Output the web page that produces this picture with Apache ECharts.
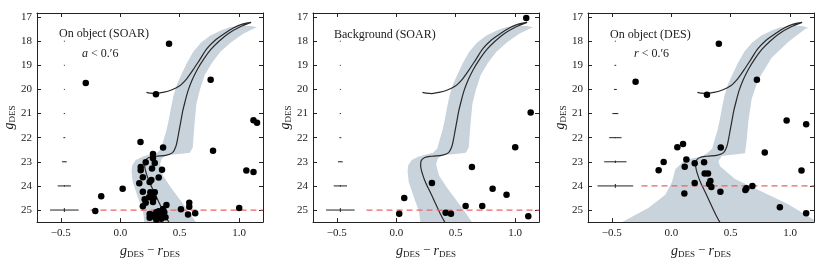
<!DOCTYPE html>
<html><head><meta charset="utf-8">
<script src="https://cdn.jsdelivr.net/npm/echarts@6/dist/echarts.min.js"></script>
<style>html,body{margin:0;padding:0;background:#fff}#c{width:831px;height:264px}</style>
</head><body><div id="c"></div>
<script>
// ---------- data ----------
const xTicks = [-0.5, 0.0, 0.5, 1.0];
const yTicks = [17, 18, 19, 20, 21, 22, 23, 24, 25];

// isochrone (MS -> RGB tip -> AGB -> HB end), [color, mag]
const isoColor = [0.42,0.385,0.35,0.318,0.285,0.25,0.22,0.205,0.21,0.24,0.30,0.39,0.44,0.465,0.48,0.495,0.51,0.525,0.545,0.57,0.605,0.65,0.70,0.76,0.83,0.91,1.00,1.10,1.02,0.95,0.87,0.80,0.73,0.67,0.61,0.56,0.50,0.43,0.36,0.30,0.25,0.22];
const isoMag   = [25.6,25.3,24.95,24.6,24.25,23.9,23.5,23.15,22.95,22.82,22.77,22.72,22.62,22.4,22.1,21.7,21.3,20.9,20.5,20.05,19.6,19.15,18.75,18.35,18.0,17.68,17.42,17.22,17.3,17.45,17.7,17.95,18.3,18.75,19.2,19.55,19.85,20.02,20.12,20.17,20.15,20.12];

// SOAR band outline (left edge top->bottom, right edge bottom->top)
const bandSoarColor = [1.0,0.92,0.85,0.754,0.68,0.615,0.56,0.517,0.475,0.447,0.425,0.405,0.385,0.363,0.345,0.31,0.25,0.19,0.13,0.10,0.095,0.105,0.15,0.19,0.205,
  0.65,0.58,0.51,0.43,0.36,0.335,0.35,0.39,0.50,0.585,0.61,0.615,0.625,0.64,0.67,0.71,0.77,0.84,0.93,1.03,1.12,1.15,1.10];
const bandSoarMag = [17.36,17.42,17.55,17.77,18.05,18.43,18.9,19.35,19.8,20.27,20.8,21.33,21.75,22.12,22.45,22.62,22.7,22.78,22.92,23.15,23.4,23.84,24.5,25.03,25.6,
  25.6,25.09,24.63,24.1,23.58,23.1,22.85,22.72,22.68,22.62,22.4,22.0,21.4,20.6,20.0,19.4,18.9,18.45,18.05,17.7,17.48,17.42,17.37];
// DES band outline
const bandDesColor = [1.0,0.92,0.85,0.754,0.68,0.615,0.56,0.517,0.475,0.447,0.425,0.405,0.385,0.363,0.345,0.30,0.257,0.117,0.034,0.006,-0.05,-0.19,-0.385,-0.45,
  1.35,1.2,0.983,0.76,0.536,0.41,0.397,0.425,0.62,0.634,0.648,0.676,0.73,0.844,0.983,1.123,1.15,1.10];
const bandDesMag = [17.36,17.42,17.55,17.77,18.05,18.43,18.9,19.35,19.8,20.27,20.8,21.33,21.75,22.12,22.45,22.65,22.78,22.91,23.31,23.84,24.37,24.9,25.42,25.6,
  25.6,25.4,24.76,24.23,23.71,23.18,22.98,22.76,22.65,22.12,21.33,20.4,19.61,18.69,18.03,17.5,17.44,17.37];

// stars: On object (SOAR)
const soarOnColor = [0.41,-0.29,0.76,0.30,1.12,1.15,0.17,0.36,0.78,1.06,1.12,0.02,-0.16,-0.21,1.0,0.51,0.58,0.58,0.57,0.63,
  0.275,0.275,0.214,0.29,0.172,0.172,0.267,0.351,0.19,0.323,0.261,0.247,0.16,0.19,0.253,0.29,0.242,0.205,0.281,0.214,0.275,0.19,0.388,0.36,0.247,0.247,0.29,0.303,0.33,0.345,0.323,0.37,0.303,0.27,0.35,0.38];
const soarOnMag = [18.11,19.73,19.6,20.2,21.28,21.38,22.18,22.41,22.54,23.36,23.42,24.12,24.43,25.04,24.92,24.97,24.70,24.86,25.18,25.13,
  22.68,22.85,23.02,23.05,23.22,23.35,23.28,23.33,23.64,23.65,23.75,23.84,23.89,24.24,24.26,24.26,24.47,24.55,24.5,24.7,24.67,24.84,24.79,24.96,25.16,25.32,25.29,25.40,25.23,25.36,25.05,25.09,25.09,25.2,25.15,25.3];
// stars: Background (SOAR)
const soarBgColor = [1.093,1.13,1.0,0.636,0.30,0.81,0.927,0.067,0.583,0.723,0.025,0.415,0.46,1.11];
const soarBgMag   = [17.04,20.96,22.4,23.22,23.88,24.12,24.37,24.5,24.83,24.83,25.15,25.11,25.15,25.26];
// stars: On object (DES)
const desOnColor = [0.40,-0.30,0.72,0.30,0.97,1.134,0.051,0.099,0.416,0.786,-0.064,0.127,0.197,0.276,-0.106,0.113,0.281,0.309,1.095,0.197,0.329,0.318,0.337,0.11,0.413,0.632,0.623,0.682,0.913,1.134];
const desOnMag   = [18.11,19.68,19.6,20.22,21.29,21.44,22.40,22.26,22.41,22.61,23.01,22.90,23.06,23.02,23.35,23.21,23.48,23.48,23.36,23.88,23.8,23.92,24.04,24.31,24.24,24.1,24.17,24.0,24.88,25.13];

// error bars
const errCenter = -0.47;
const errMagSoar = [18,19,20,21,22,23,24,25];
const errColSoar = [0.004,0.004,0.004,0.005,0.008,0.02,0.056,0.12];
const errMagErrSoar = [0,0,0,0,0,0.01,0.03,0.08];
const errMagDes = [18,19,20,21,22,23,24];
const errColDes = [0.004,0.007,0.012,0.025,0.052,0.094,0.15];
const errMagErrDes = [0,0,0,0.01,0.02,0.05,0.08];

// completeness limits
const limitSoar = 25, limitDes = 24;
const limitStart = -0.25, limitEnd = 1.2;

// ---------- chart ----------
const FONT = '"Liberation Serif", "DejaVu Serif", serif';
const INK = '#1a1a1a';
const lefts = [37, 313, 588];
const zip = (a, b) => a.map((v, i) => [v, b[i]]);

const grids = lefts.map(l => ({left: l, top: 13, width: 226, height: 219}));
const axisLine = {show: true, onZero: false, lineStyle: {color: '#222', width: 1}};
const tick = (vals) => ({show: true, inside: true, length: 4, customValues: vals, lineStyle: {color: '#222', width: 1}});
const xAxes = [], yAxes = [];
lefts.forEach((l, g) => {
  xAxes.push({type: 'value', gridIndex: g, min: -0.7, max: 1.2, position: 'bottom', axisLine, axisTick: tick(xTicks),
    axisLabel: {customValues: xTicks, margin: 6, fontFamily: FONT, fontSize: 11, color: INK,
      formatter: v => (v < 0 ? '\u2212' : '') + Math.abs(v).toFixed(1)},
    splitLine: {show: false},
    name: '{g|g}{s|DES} {m|\u2212} {g|r}{s|DES}', nameLocation: 'middle', nameGap: 15,
    nameTextStyle: {fontFamily: FONT, color: INK, rich: {
      g: {fontFamily: FONT, fontStyle: 'italic', fontSize: 14, color: INK, lineHeight: 16, verticalAlign: 'middle'},
      s: {fontFamily: FONT, fontSize: 9, color: INK, lineHeight: 16, verticalAlign: 'bottom', padding: [5, 0, 0, 0]},
      m: {fontFamily: FONT, fontSize: 13, color: INK, lineHeight: 16}}}});
  xAxes.push({type: 'value', gridIndex: g, min: -0.7, max: 1.2, position: 'top', axisLine, axisTick: tick(xTicks),
    axisLabel: {show: false}, splitLine: {show: false}});
  yAxes.push({type: 'value', gridIndex: g, min: 16.83, max: 25.5, inverse: true, position: 'left', axisLine, axisTick: tick(yTicks),
    axisLabel: {customValues: yTicks, margin: 5, fontFamily: FONT, fontSize: 11, color: INK},
    splitLine: {show: false},
    name: '{g|g}{s|DES}', nameLocation: 'middle', nameGap: 20, nameRotate: 90,
    nameTextStyle: {fontFamily: FONT, color: INK, rich: {
      g: {fontFamily: FONT, fontStyle: 'italic', fontSize: 14, color: INK, lineHeight: 16, verticalAlign: 'middle'},
      s: {fontFamily: FONT, fontSize: 9, color: INK, lineHeight: 16, verticalAlign: 'bottom', padding: [5, 0, 0, 0]}}}});
  yAxes.push({type: 'value', gridIndex: g, min: 16.83, max: 25.5, inverse: true, position: 'right', axisLine, axisTick: tick(yTicks),
    axisLabel: {show: false}, splitLine: {show: false}});
});

function bandSeries(g, cols, mags) {
  return {type: 'custom', xAxisIndex: 2*g, yAxisIndex: 2*g, clip: true, z: 1, silent: true,
    data: [[cols[0], mags[0]]],
    renderItem: (params, api) => ({type: 'polygon',
      shape: {points: cols.map((c, i) => api.coord([c, mags[i]]))},
      style: {fill: '#c9d3dc', stroke: null}})};
}
function isoSeries(g) {
  return {type: 'line', xAxisIndex: 2*g, yAxisIndex: 2*g, data: zip(isoColor, isoMag), showSymbol: false, symbol: 'none',
    smooth: 0.3, clip: true, z: 3, silent: true, lineStyle: {color: '#2a2a2a', width: 1.2}};
}
function limitSeries(g, mag) {
  return {type: 'line', xAxisIndex: 2*g, yAxisIndex: 2*g, data: [[limitStart, mag], [limitEnd, mag]], symbol: 'none', z: 4, silent: true,
    lineStyle: {color: '#eb6464', width: 1.2, type: [6, 4]}};
}
function errSeries(g, mags, cerr, merr) {
  return {type: 'custom', xAxisIndex: 2*g, yAxisIndex: 2*g, z: 4, silent: true,
    data: mags.map((m, i) => [errCenter, m, cerr[i], merr[i]]),
    encode: {x: 0, y: 1},
    renderItem: (params, api) => {
      const x = api.value(0), y = api.value(1), ex = api.value(2), ey = api.value(3);
      const a = api.coord([x - ex, y]), b = api.coord([x + ex, y]);
      const c = api.coord([x, y - ey]), d = api.coord([x, y + ey]);
      const st = {stroke: '#222', lineWidth: 1};
      const ch = [{type: 'line', shape: {x1: a[0], y1: a[1], x2: b[0], y2: b[1]}, style: st}];
      if (ey > 0) ch.push({type: 'line', shape: {x1: c[0], y1: c[1], x2: d[0], y2: d[1]}, style: st});
      return {type: 'group', children: ch};
    }};
}
function starSeries(g, cols, mags) {
  return {type: 'scatter', xAxisIndex: 2*g, yAxisIndex: 2*g, data: zip(cols, mags), symbolSize: 6.5, z: 6,
    itemStyle: {color: '#000', opacity: 1}, silent: true};
}

const series = [
  bandSeries(0, bandSoarColor, bandSoarMag), isoSeries(0), limitSeries(0, limitSoar), errSeries(0, errMagSoar, errColSoar, errMagErrSoar), starSeries(0, soarOnColor, soarOnMag),
  bandSeries(1, bandSoarColor, bandSoarMag), isoSeries(1), limitSeries(1, limitSoar), errSeries(1, errMagSoar, errColSoar, errMagErrSoar), starSeries(1, soarBgColor, soarBgMag),
  bandSeries(2, bandDesColor, bandDesMag), isoSeries(2), limitSeries(2, limitDes), errSeries(2, errMagDes, errColDes, errMagErrDes), starSeries(2, desOnColor, desOnMag),
];

const txt = (x, y, text, rich) => ({type: 'text', x, y, z: 100,
  style: {text, fill: INK, font: '12px ' + FONT, verticalAlign: 'middle', rich}});
const richI = {i: {fontStyle: 'italic', fontFamily: FONT, fontSize: 12, fill: INK, color: INK}};

const chart = echarts.init(document.getElementById('c'), null, {renderer: 'canvas'});
chart.setOption({
  animation: false,
  grid: grids, xAxis: xAxes, yAxis: yAxes, series,
  graphic: [
    txt(59, 34, 'On object (SOAR)'),
    txt(82, 54, '{i|a} < 0.\u20326', richI),
    txt(334, 35, 'Background (SOAR)'),
    txt(610, 35, 'On object (DES)'),
    txt(634, 54, '{i|r} < 0.\u20326', richI),
  ]
});
</script></body></html>
